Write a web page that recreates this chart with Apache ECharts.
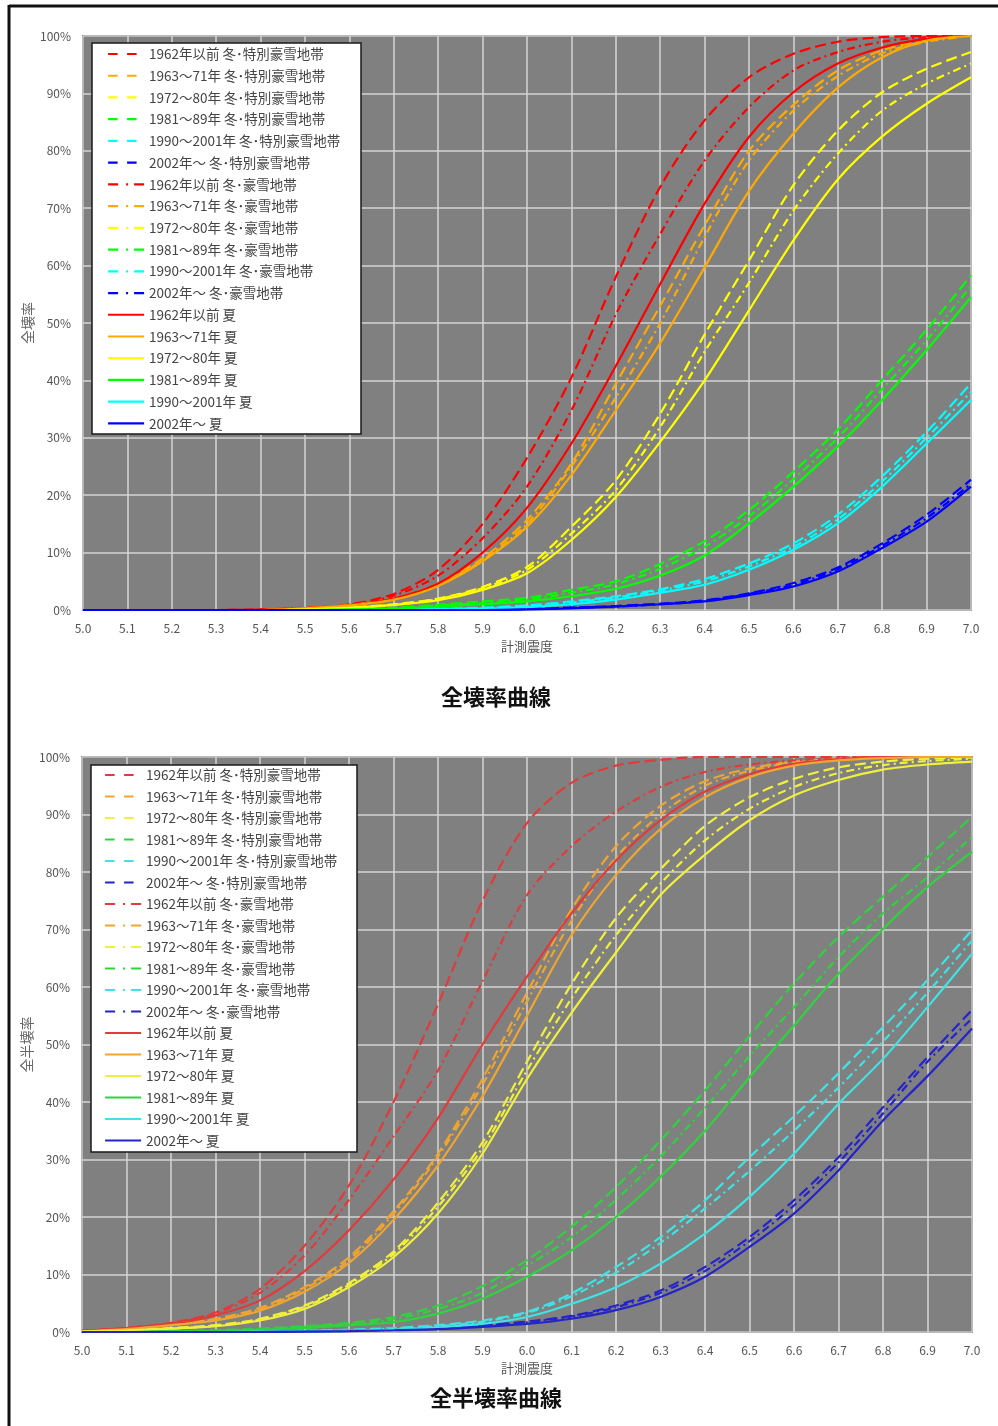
<!DOCTYPE html>
<html lang="ja">
<head>
<meta charset="utf-8">
<title>全壊率曲線・全半壊率曲線</title>
<script src="https://cdn.jsdelivr.net/npm/echarts/dist/echarts.min.js"></script>
<style>
  html, body { margin: 0; padding: 0; background: #fff; }
  #chart { width: 998px; height: 1426px; }
</style>
</head>
<body>
<div id="chart"></div>
<script>
// 計測震度（横軸）
const intensity = ['5.0','5.1','5.2','5.3','5.4','5.5','5.6','5.7','5.8','5.9','6.0',
                   '6.1','6.2','6.3','6.4','6.5','6.6','6.7','6.8','6.9','7.0'];

// 建築年代と季節・地域区分（凡例）
const periods = ['1962年以前', '1963～71年', '1972～80年', '1981～89年', '1990～2001年', '2002年～'];
const seasons = ['冬･特別豪雪地帯', '冬･豪雪地帯', '夏'];

// ---- 全壊率 (%) ----
const zen_1962_toku = [0,0,0,0,0.1,0.4,1.0,2.8,7.0,15.0,26.5,40.5,58.0,73.7,85.3,92.8,96.9,99.0,99.8,100,100];
const zen_1963_toku = [0,0,0,0,0,0.3,0.9,2.0,4.6,9.0,15.7,25.5,39.4,53.0,67.0,80.0,88.0,94.0,97.5,99.3,100];
const zen_1972_toku = [0,0,0,0,0,0.1,0.4,1.0,2.0,4.0,7.5,14.5,22.6,34.2,48.0,60.9,74.0,83.5,90.2,94.3,97.2];
const zen_1981_toku = [0,0,0,0,0,0,0.2,0.4,0.9,1.5,2.1,3.5,5.0,8.0,12.0,17.4,24.1,31.4,40.1,48.8,58.3];
const zen_1990_toku = [0,0,0,0,0,0,0,0.1,0.2,0.4,0.8,1.5,2.4,3.6,5.4,8.1,11.6,16.6,23.3,31.0,39.5];
const zen_2002_toku = [0,0,0,0,0,0,0,0,0,0.1,0.2,0.4,0.7,1.1,1.7,2.9,4.7,7.4,11.6,16.6,22.7];

const zen_1962_gou = [0,0,0,0,0.05,0.3,0.9,2.5,6.0,12.5,21.5,34.8,51.5,65.5,78.3,87.6,94.0,97.2,99.0,99.8,100];
const zen_1963_gou = [0,0,0,0,0,0.3,0.8,1.9,4.4,8.7,15.0,25.0,37.0,50.0,65.0,78.3,87.0,93.0,97.0,99.0,100];
const zen_1972_gou = [0,0,0,0,0,0.1,0.4,0.9,1.9,3.8,7.0,13.3,20.9,31.9,45.0,57.0,69.6,79.5,87.0,91.7,95.2];
const zen_1981_gou = [0,0,0,0,0,0,0.1,0.3,0.8,1.2,1.8,3.0,4.5,7.2,11.0,16.3,22.8,30.0,38.5,47.0,56.4];
const zen_1990_gou = [0,0,0,0,0,0,0,0.1,0.2,0.3,0.7,1.3,2.2,3.4,5.0,7.6,11.0,15.8,22.4,30.0,38.0];
const zen_2002_gou = [0,0,0,0,0,0,0,0,0,0.1,0.2,0.4,0.6,1.0,1.6,2.8,4.4,7.1,11.2,16.0,22.0];

const zen_1962_natsu = [0,0,0,0,0.05,0.3,0.8,2.0,4.6,10.0,17.8,29.0,42.5,56.8,70.8,82.4,90.2,95.2,98.0,99.5,100];
const zen_1963_natsu = [0,0,0,0,0,0.3,0.8,1.8,4.2,8.5,14.5,23.5,34.8,46.5,59.7,73.0,83.0,91.0,96.3,99.2,100];
const zen_1972_natsu = [0,0,0,0,0,0.1,0.4,0.9,1.7,3.5,6.4,12.2,19.7,29.3,40.0,52.2,64.4,75.0,82.5,88.2,92.8];
const zen_1981_natsu = [0,0,0,0,0,0,0.1,0.2,0.6,1.0,1.5,2.4,3.7,6.0,9.5,15.1,21.5,28.5,36.6,45.3,54.5];
const zen_1990_natsu = [0,0,0,0,0,0,0,0,0.1,0.2,0.5,1.0,1.8,3.0,4.4,7.0,10.5,15.1,21.5,29.0,36.6];
const zen_2002_natsu = [0,0,0,0,0,0,0,0,0,0,0.1,0.3,0.6,1.0,1.5,2.6,4.1,6.7,10.8,15.4,21.5];

// ---- 全半壊率 (%) ----
const han_1962_toku = [0.2,0.7,1.6,3.4,7.5,15.0,25.5,40.0,57.0,75.0,88.5,95.5,98.5,99.5,100,100,100,100,100,100,100];
const han_1963_toku = [0.1,0.5,1.3,2.3,4.2,7.8,13.0,21.0,31.0,44.0,59.0,73.5,84.5,91.5,95.8,98.0,99.2,99.7,100,100,100];
const han_1972_toku = [0.1,0.3,0.7,1.2,2.3,4.6,8.5,14.0,22.5,33.0,47.0,60.5,72.0,80.5,88.0,93.0,96.2,98.2,99.2,99.7,99.9];
const han_1981_toku = [0,0.05,0.1,0.3,0.6,1.0,1.6,2.6,4.6,8.0,12.5,18.3,25.2,33.3,42.0,51.5,60.6,68.7,75.7,82.6,89.6];
const han_1990_toku = [0,0,0,0.05,0.1,0.2,0.4,0.7,1.2,2.0,3.5,6.7,11.3,16.5,22.9,30.4,37.5,45.0,53.0,61.2,69.9];
const han_2002_toku = [0,0,0,0,0.05,0.1,0.2,0.4,0.7,1.2,1.8,2.8,4.6,7.2,11.3,16.5,22.9,30.4,39.1,47.8,56.0];

const han_1962_gou = [0.2,0.7,1.5,3.2,6.8,13.3,23.0,34.0,45.5,61.0,76.0,84.5,90.5,94.8,97.4,98.7,99.4,99.8,100,100,100];
const han_1963_gou = [0.1,0.5,1.2,2.2,4.0,7.5,12.5,20.5,30.5,43.0,57.5,71.5,82.5,90.0,95.0,97.6,99.0,99.6,99.9,100,100];
const han_1972_gou = [0.1,0.3,0.6,1.1,2.2,4.4,8.2,13.6,21.8,32.0,45.5,58.0,69.0,78.0,85.5,91.0,94.8,97.2,98.6,99.3,99.7];
const han_1981_gou = [0,0.05,0.1,0.2,0.5,0.9,1.4,2.2,4.0,6.8,11.5,16.5,23.0,30.5,39.0,48.0,56.5,65.2,72.8,79.1,86.1];
const han_1990_gou = [0,0,0,0.05,0.1,0.2,0.3,0.6,1.0,1.8,3.3,6.2,10.3,15.5,21.5,28.0,35.0,42.5,50.5,59.0,68.1];
const han_2002_gou = [0,0,0,0,0.05,0.1,0.2,0.35,0.6,1.1,1.7,2.7,4.3,6.8,10.6,15.8,22.0,29.5,38.0,47.0,54.5];

const han_1962_natsu = [0.2,0.7,1.4,2.9,5.5,10.6,17.7,26.5,37.2,50.0,61.8,72.8,82.0,89.0,94.0,97.0,98.8,99.6,100,100,100];
const han_1963_natsu = [0.1,0.5,1.2,2.0,3.7,7.0,12.0,19.5,29.0,41.0,55.0,69.0,79.5,87.5,93.0,96.5,98.5,99.4,99.8,100,100];
const han_1972_natsu = [0.1,0.3,0.6,1.0,2.0,4.0,7.8,13.0,20.6,31.0,44.0,55.5,66.0,76.0,83.0,89.0,93.3,96.0,97.8,98.7,99.2];
const han_1981_natsu = [0,0,0.1,0.2,0.4,0.7,1.2,1.7,3.2,5.8,9.6,14.2,20.0,27.0,35.0,44.3,53.3,62.3,70.1,77.4,83.5];
const han_1990_natsu = [0,0,0,0,0.05,0.1,0.2,0.4,0.8,1.4,2.6,4.9,7.8,11.9,17.1,23.5,31.0,39.7,47.5,56.5,65.8];
const han_2002_natsu = [0,0,0,0,0,0.05,0.15,0.3,0.5,0.9,1.4,2.3,3.8,6.1,9.6,14.8,20.6,28.1,36.8,44.5,52.8];

// 区分ごとの並び（行: 季節・地域区分, 列: 建築年代）
const zenkaiRows = [
  [zen_1962_toku, zen_1963_toku, zen_1972_toku, zen_1981_toku, zen_1990_toku, zen_2002_toku],
  [zen_1962_gou, zen_1963_gou, zen_1972_gou, zen_1981_gou, zen_1990_gou, zen_2002_gou],
  [zen_1962_natsu, zen_1963_natsu, zen_1972_natsu, zen_1981_natsu, zen_1990_natsu, zen_2002_natsu]
];
const hankaiRows = [
  [han_1962_toku, han_1963_toku, han_1972_toku, han_1981_toku, han_1990_toku, han_2002_toku],
  [han_1962_gou, han_1963_gou, han_1972_gou, han_1981_gou, han_1990_gou, han_2002_gou],
  [han_1962_natsu, han_1963_natsu, han_1972_natsu, han_1981_natsu, han_1990_natsu, han_2002_natsu]
];

// 線の色と線種（グラフ内・凡例）
const colorsTop = ['#ff0000', '#ffaa00', '#ffff00', '#00ff00', '#00ffff', '#0000ff'];
const colorsBottom = ['#e23a3a', '#f0a531', '#f0f03c', '#2fd33c', '#3fe3e3', '#2424c8'];
const dashTypes = [[11, 5], [8, 4, 2, 4], 'solid'];
const legendDashTypes = [[9.5, 9.5], [10, 8, 2, 6], 'solid'];

const FONT = '"Noto Sans CJK JP", "Noto Sans", sans-serif';
const PREFIX_BOTTOM = '全半壊｜';

function legendName(p, s) { return periods[p] + ' ' + seasons[s]; }

function buildSeries(rows, colors, axisIndex, prefix) {
  const list = [];
  for (let s = 0; s < rows.length; s++) {
    for (let p = 0; p < rows[s].length; p++) {
      list.push({
        type: 'line',
        name: prefix + legendName(p, s),
        xAxisIndex: axisIndex,
        yAxisIndex: axisIndex,
        data: rows[s][p],
        symbol: 'none',
        smooth: 0.3,
        color: colors[p],
        lineStyle: { color: colors[p], width: 2.2, type: dashTypes[s] },
        emphasis: { disabled: true },
        animation: false
      });
    }
  }
  return list;
}

const seriesTop = buildSeries(zenkaiRows, colorsTop, 0, '');
const seriesBottom = buildSeries(hankaiRows, colorsBottom, 1, PREFIX_BOTTOM);

function legendItems(prefix) {
  const items = [];
  for (let s = 0; s < seasons.length; s++) {
    for (let p = 0; p < periods.length; p++) {
      items.push({ name: prefix + legendName(p, s), lineStyle: { type: legendDashTypes[s], width: 2.2 } });
    }
  }
  return items;
}

function xAxisFor(gridIndex) {
  return {
    type: 'category', gridIndex, data: intensity, boundaryGap: false,
    name: '計測震度', nameLocation: 'middle', nameGap: 30,
    nameTextStyle: { color: '#555', fontSize: 13, fontFamily: FONT },
    axisLine: { show: false }, axisTick: { show: false },
    axisLabel: { interval: 0, color: '#555', fontSize: 12, margin: 12, fontFamily: FONT },
    splitLine: { show: true, interval: 0, lineStyle: { color: '#d4d4d4', width: 1.5 } }
  };
}
function yAxisFor(gridIndex, name) {
  return {
    type: 'value', gridIndex, min: 0, max: 100, interval: 10,
    name, nameLocation: 'middle', nameGap: 48, nameRotate: 90, nameMoveOverlap: false,
    nameTextStyle: { color: '#666', fontSize: 14, fontFamily: FONT },
    axisLine: { show: false }, axisTick: { show: false },
    axisLabel: { formatter: '{value}%', color: '#555', fontSize: 12, margin: 12, fontFamily: FONT },
    splitLine: { show: true, lineStyle: { color: '#d4d4d4', width: 1.5 } }
  };
}

function legendFor(items, left, top, gap, strip) {
  return {
    orient: 'vertical', left, top, padding: 0,
    itemWidth: 36, itemHeight: 14, itemGap: gap,
    selectedMode: false, z: 6,
    data: items,
    itemStyle: { opacity: 0 },
    formatter: strip ? (n) => n.replace(strip, '') : undefined,
    textStyle: { color: '#444', fontSize: 13.5, lineHeight: 14, fontFamily: FONT }
  };
}

const chart = echarts.init(document.getElementById('chart'), null, { renderer: 'canvas' });

chart.setOption({
  backgroundColor: '#ffffff',
  animation: false,
  grid: [
    { left: 83, top: 36, width: 888, height: 574, show: true, backgroundColor: '#808080', borderColor: '#3c3c3c', borderWidth: 1.5 },
    { left: 82, top: 757, width: 890, height: 575, show: true, backgroundColor: '#808080', borderColor: '#3c3c3c', borderWidth: 1.5 }
  ],
  xAxis: [xAxisFor(0), xAxisFor(1)],
  yAxis: [yAxisFor(0, '全壊率'), yAxisFor(1, '全半壊率')],
  legend: [
    legendFor(legendItems(''), 107, 47, 7.73, null),
    legendFor(legendItems(PREFIX_BOTTOM), 104, 768, 7.5, PREFIX_BOTTOM)
  ],
  graphic: [
    // 外枠
    { type: 'line', shape: { x1: 9, y1: 6, x2: 998, y2: 6 }, style: { stroke: '#111', lineWidth: 3 }, z: 10 },
    { type: 'line', shape: { x1: 9, y1: 5, x2: 9, y2: 1426 }, style: { stroke: '#111', lineWidth: 3 }, z: 10 },
    // 凡例枠
    { type: 'rect', shape: { x: 92, y: 43, width: 269, height: 391 }, style: { fill: '#fff', stroke: '#1a1a1a', lineWidth: 1.5 }, z: 5 },
    { type: 'rect', shape: { x: 91, y: 765, width: 266, height: 387 }, style: { fill: '#fff', stroke: '#1a1a1a', lineWidth: 1.5 }, z: 5 },
    // 図題
    { type: 'text', x: 496, y: 697, style: { text: '全壊率曲線', fill: '#111', font: 'bold 22px "Noto Sans CJK JP"', align: 'center', verticalAlign: 'middle' }, z: 10 },
    { type: 'text', x: 496, y: 1398, style: { text: '全半壊率曲線', fill: '#111', font: 'bold 22px "Noto Sans CJK JP"', align: 'center', verticalAlign: 'middle' }, z: 10 }
  ],
  series: seriesTop.concat(seriesBottom)
});
</script>
</body>
</html>
